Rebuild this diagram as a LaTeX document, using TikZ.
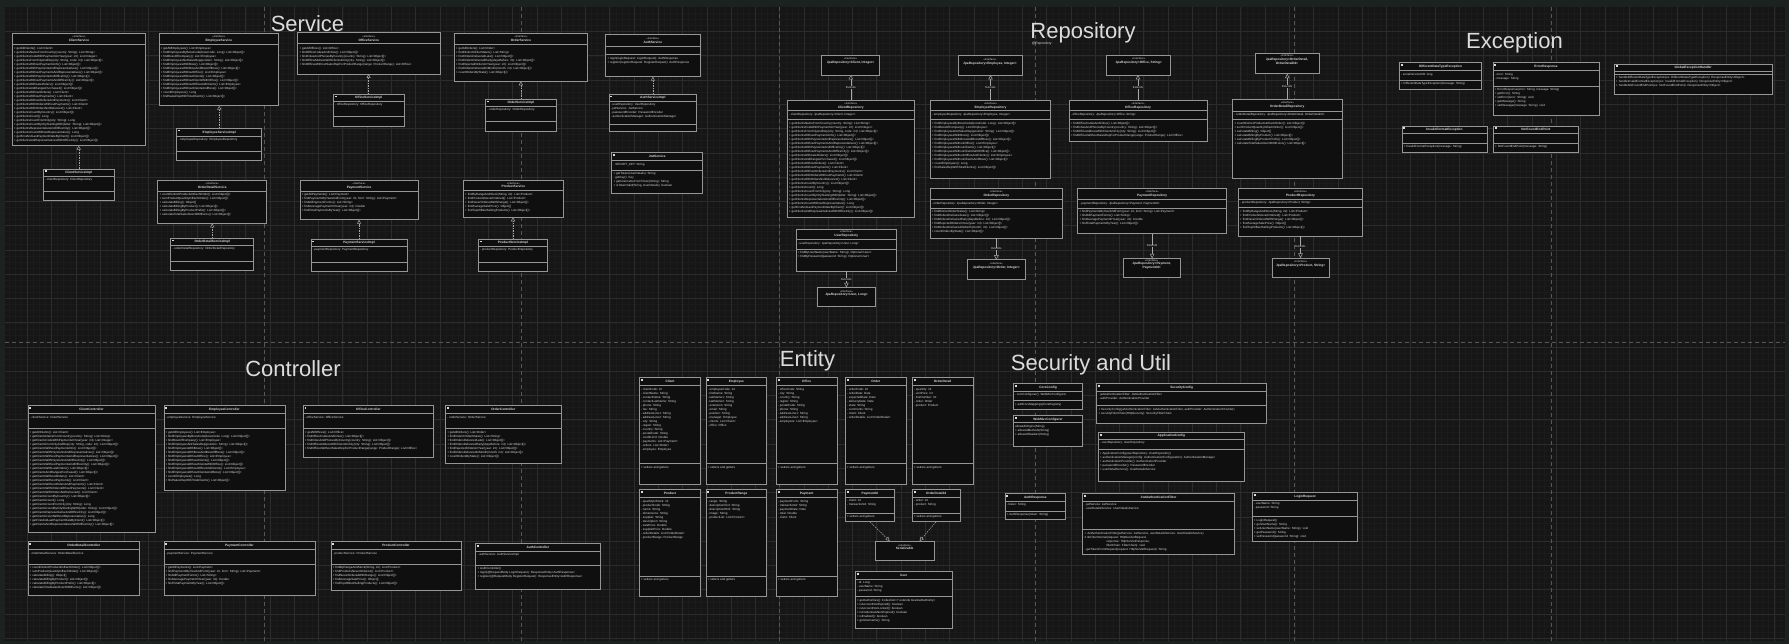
\documentclass[tikz,border=0pt]{standalone}
\usepackage{fontspec}
\setmainfont{Liberation Sans}
\usetikzlibrary{arrows.meta}
\definecolor{outerbg}{HTML}{1B221F}
\definecolor{canvas}{HTML}{161616}
\definecolor{gridmaj}{HTML}{2C2C2C}
\definecolor{gridmin}{HTML}{1B1B1B}
\definecolor{pagebrk}{HTML}{565656}
\definecolor{boxfill}{HTML}{0F0F0F}
\definecolor{boxline}{HTML}{959595}
\definecolor{txt}{HTML}{DCDCDC}
\definecolor{conn}{HTML}{A8A8A8}
\tikzset{
 ubox/.style={draw=boxline, fill=boxfill, line width=0.6pt, inner sep=0pt, outer sep=0pt, anchor=north west},
 usepline/.style={draw=boxline, line width=0.5pt},
 utext/.style={text=txt, inner sep=0pt, align=left, anchor=north west, font=\fontsize{3.0}{4}\selectfont},
 utitle/.style={text=txt, inner sep=0pt, align=center, font=\fontsize{3.2}{3.8}\selectfont\bfseries},
 uicon/.style={fill=txt, draw=none, minimum size=1.8pt, inner sep=0pt, anchor=north west},
 sectitle/.style={text=txt, font=\fontsize{22}{26}\selectfont, anchor=base, inner sep=0pt},
 realize/.style={draw=conn, line width=0.5pt, dash pattern=on 1.5pt off 1pt, -{Triangle[open, length=4pt, width=4pt, fill=boxfill]}},
 extends/.style={draw=conn, line width=0.5pt, -{Triangle[open, length=4.5pt, width=4.5pt, fill=boxfill]}},
 elabel/.style={text=txt, fill=canvas, inner sep=0.4pt, font=\fontsize{2.8}{3}\selectfont},
 gridmajor/.style={draw=gridmaj, line width=0.6pt},
 gridminor/.style={draw=gridmin, line width=0.4pt},
 pagebreak/.style={draw=pagebrk, line width=0.8pt, dash pattern=on 4pt off 3pt},
}
% box: id, x, y, w, h
\newcommand\ubox[5]{\node[ubox, minimum width=#4pt, minimum height=#5pt] (#1) at (#2,#3) {};}
\newcommand\usep[2]{\draw[usepline] ([yshift=-#2pt]#1.north west) -- ([yshift=-#2pt]#1.north east);}
\newcommand\uhdr[3]{\node[uicon] (#1-i) at ([xshift=1.2pt,yshift=-1.2pt]#1.north west) {};
  \node[utitle] (#1-t) at ([yshift=-#2*0.5pt]#1.north) {#3};\usep{#1}{#2}}
\newcommand\uihdr[3]{\node[utitle] (#1-t) at ([yshift=-#2*0.5pt]#1.north) {{\fontsize{2.6}{3.2}\selectfont\mdseries «Interface»}\\#3};\usep{#1}{#2}}
\newcommand\utxt[4]{\node[utext] (#1-#2) at ([xshift=1.6pt,yshift=-#3pt]#1.north west) {#4};}
\newcommand\ujpa[6]{\ubox{#1}{#2}{#3}{#4}{#5}\node[utitle] (#1-t) at ([yshift=-6pt]#1.north) {{\fontsize{2.6}{3.2}\selectfont\mdseries «Interface»}\\#6};}
% method lists
\newcommand\mCli{%
+ getClientsNameFromCountry(country: String): List<String>\\
+ getClientsCodeWithPaymentsInYear(year: int): List<Integer>\\
+ getClientsFromCityAndRep(city: String, code: int): List<Object[]>\\
+ getClientsWithoutPaymentsInfo(): List<Object[]>\\
+ getClientsWithPaymentsAndRepresentatives(): List<Object[]>\\
+ getClientsWithoutPaymentsAndRepresentatives(): List<Object[]>\\
+ getClientsWithPaymentsAndOfficeCity(): List<Object[]>\\
+ getClientsWithoutPaymentsAndOfficeCity(): List<Object[]>\\
+ getClientsWithLateOrders(): List<Object[]>\\
+ getClientsAndRangesPurchased(): List<Object[]>\\
+ getClientsWithoutOrders(): List<Client>\\
+ getClientsWithoutPayments(): List<Client>\\
+ getClientsWithoutOrdersAndPayments(): List<Client>\\
+ getClientsWithOrdersWithoutPayments(): List<Client>\\
+ getClientsWithOrdersNotDelivered(): List<Client>\\
+ getClientsCountByCountry(): List<Object[]>\\
+ getClientsCount(): Long\\
+ getClientsCountFromCity(city: String): Long\\
+ getClientsCountByCityStartingWith(letter: String): List<Object[]>\\
+ getClientsRepresentativeAndOfficeCity(): List<Object[]>\\
+ getClientsCountWithoutRepresentative(): Long\\
+ getFirstAndLastPaymentDateByClient(): List<Object[]>\\
+ getClientsAndRepresentativesWithOfficeCity(): List<Object[]>}
\newcommand\mEmp{%
+ findEmployeesByBossCode(bossCode: Long): List<Object[]>\\
+ findBossOfCompany(): List<Employee>\\
+ findEmployeesNotSalesRep(position: String): List<Object[]>\\
+ findEmployeesWithBoss(): List<Object[]>\\
+ findEmployeesWithBossAndBossOfBoss(): List<Object[]>\\
+ findEmployeesWithoutOffice(): List<Employee>\\
+ findEmployeesWithoutClients(): List<Object[]>\\
+ findEmployeesWithoutClientsWithOffice(): List<Object[]>\\
+ findEmployeesWithoutOfficeAndClients(): List<Employee>\\
+ findEmployeesWithoutClientsAndBoss(): List<Object[]>\\
+ countEmployees(): Long\\
+ findSalesRepWithTotalClients(): List<Object[]>}
\newcommand\mOff{%
+ findOfficeCodesAndCities(): List<Object[]>\\
+ findCitiesAndPhonesByCountry(country: String): List<Object[]>\\
+ findOfficeAddressWithClientsInCity(city: String): List<Object[]>\\
+ findOfficesWithoutSalesRepForProductRange(range: ProductRange): List<Office>}
\newcommand\mOrd{%
+ findDistinctOrderStates(): List<String>\\
+ findOrdersDeliveredLate(): List<Object[]>\\
+ findOrdersDeliveredEarly(daysBefore: int): List<Object[]>\\
+ findRejectedOrdersInYear(year: int): List<Object[]>\\
+ findOrdersDeliveredInMonth(month: int): List<Object[]>\\
+ countOrdersByState(): List<Object[]>}
\newcommand\mOD{%
+ countDistinctProductsInEachOrder(): List<Object[]>\\
+ sumProductQuantityInEachOrder(): List<Object[]>\\
+ calculateBilling(): Object[]\\
+ calculateBillingByProduct(): List<Object[]>\\
+ calculateBillingByProductPrefix(): List<Object[]>\\
+ calculateTotalSalesOver3000Euros(): List<Object[]>}
\newcommand\mPay{%
+ findPaymentsByYearAndForm(year: int, form: String): List<Payment>\\
+ findAllPaymentForms(): List<String>\\
+ findAveragePaymentInYear(year: int): Double\\
+ findTotalPaymentsByYear(): List<Object[]>}
\newcommand\mProd{%
+ findByRangeAndStock(String, int): List<Product>\\
+ findProductsNeverOrdered(): List<Product>\\
+ findNeverOrderedWithRange(): List<Object[]>\\
+ findAverageSalePrice(): Object[]\\
+ findTop20BestSellingProducts(): List<Object[]>}
\begin{document}
\begin{tikzpicture}[x=1pt,y=-1pt]
\useasboundingbox (0,0) rectangle (1789,644);
\fill[outerbg] (0,0) rectangle (1789,644);
\fill[canvas] (5,7) rectangle (1785,641);
% grid
\foreach \k in {1,...,293} \draw[gridminor] ({3+6.0675*\k},7) -- ({3+6.0675*\k},641);
\foreach \k in {1,...,104} \draw[gridminor] (5,{7.2+6.0675*\k}) -- (1785,{7.2+6.0675*\k});
\foreach \k in {1,...,73} \draw[gridmajor] ({3+24.27*\k},7) -- ({3+24.27*\k},641);
\foreach \k in {1,...,26} \draw[gridmajor] (5,{7.2+24.27*\k}) -- (1785,{7.2+24.27*\k});
% page breaks
\foreach \px in {264,521,779,1035,1294,1551} \draw[pagebreak] (\px,7) -- (\px,641);
\draw[pagebreak] (5,342) -- (1785,342);
% section titles
\node[sectitle] (tService) at (307.5,32) {Service};
\node[sectitle] (tRepo) at (1083,38.5) {Repository};
\node[text=txt, font=\fontsize{3.4}{4}\selectfont, anchor=north west, inner sep=0pt] (tRepoAt) at (1031.7,42.3) {@Repository};
\node[sectitle] (tExc) at (1514.5,48.3) {Exception};
\node[sectitle] (tCtrl) at (293,377) {Controller};
\node[sectitle] (tEnt) at (807.5,366.5) {Entity};
\node[sectitle] (tSec) at (1091,370.7) {Security and Util};

% ===================== SERVICE =====================
\ubox{CS}{12.3}{33.3}{133.4}{112.4}\uihdr{CS}{11}{ClientService}
\utxt{CS}{m}{14}{+ getAllClients(): List<Client>\\\mCli}
\ubox{CSI}{43.3}{169}{71}{31.7}\uhdr{CSI}{7.5}{ClientServiceImpl}
\utxt{CSI}{a}{9.5}{- clientRepository: ClientRepository}\usep{CSI}{22.5}

\ubox{ES}{159}{33.3}{119.7}{72.4}\uihdr{ES}{11}{EmployeeService}
\utxt{ES}{m}{14}{+ getAllEmployees(): List<Employee>\\\mEmp}
\ubox{ESI}{176.7}{128.3}{85}{32}\uhdr{ESI}{8}{EmployeeServiceImpl}
\utxt{ESI}{a}{10}{- employeeRepository: EmployeeRepository}\usep{ESI}{22.7}

\ubox{OS}{297.7}{32.7}{142.3}{41.3}\uihdr{OS}{11}{OfficeService}
\utxt{OS}{m}{14}{+ getAllOffices(): List<Office>\\\mOff}
\ubox{OSI}{333.3}{94.3}{70.7}{31.7}\uhdr{OSI}{7}{OfficeServiceImpl}
\utxt{OSI}{a}{9}{- officeRepository: OfficeRepository}\usep{OSI}{22.3}

\ubox{ORS}{454.3}{33.3}{133.4}{48}\uihdr{ORS}{11}{OrderService}
\utxt{ORS}{m}{14}{+ getAllOrders(): List<Order>\\\mOrd}
\ubox{ORSI}{485.7}{99.3}{70.3}{31.7}\uhdr{ORSI}{7}{OrderServiceImpl}
\utxt{ORSI}{a}{9}{- orderRepository: OrderRepository}\usep{ORSI}{22.3}

\ubox{AS}{605.7}{34}{94.3}{42.7}\uihdr{AS}{12.7}{AuthService}\usep{AS}{20.3}
\utxt{AS}{m}{23}{+ login(loginRequest: LoginRequest): AuthResponse\\+ register(registerRequest: RegisterRequest): AuthResponse}
\ubox{ASI}{609}{94.3}{87.7}{36.7}\uhdr{ASI}{6.5}{AuthServiceImpl}
\utxt{ASI}{a}{9}{- userRepository: UserRepository\\- jwtService: JwtService\\- passwordEncoder: PasswordEncoder\\- authenticationManager: AuthenticationManager}\usep{ASI}{29.7}
\ubox{JS}{611.7}{152.7}{91}{40.6}\uhdr{JS}{8}{JwtService}
\utxt{JS}{a}{10}{- SECRET\_KEY: String}\usep{JS}{17.3}
\utxt{JS}{m}{19.5}{+ getToken(UserDetails): String\\- getKey(): Key\\+ getUsernameFromToken(String): String\\+ isTokenValid(String, UserDetails): boolean}

\ubox{ODS}{157.7}{180.7}{109}{42.6}\uihdr{ODS}{10.3}{OrderDetailService}
\utxt{ODS}{m}{12.8}{\mOD}
\ubox{ODSI}{170.7}{238.3}{83}{32.4}\uhdr{ODSI}{7.3}{OrderDetailServiceImpl}
\utxt{ODSI}{a}{9.3}{- orderDetailRepository: OrderDetailRepository}\usep{ODSI}{22.7}

\ubox{PS}{300}{180.7}{118.3}{39}\uihdr{PS}{10.3}{PaymentService}
\utxt{PS}{m}{12.8}{+ getAllPayments(): List<Payment>\\\mPay}
\ubox{PSI}{310.8}{239.3}{96.4}{32.4}\uhdr{PSI}{7.3}{PaymentServiceImpl}
\utxt{PSI}{a}{9.3}{- paymentRepository: PaymentRepository}\usep{PSI}{22.7}

\ubox{PRS}{463.4}{180}{99.9}{37.3}\uihdr{PRS}{10.3}{ProductService}
\utxt{PRS}{m}{12.8}{\mProd}
\ubox{PRSI}{478.4}{239.3}{69.2}{32.4}\uhdr{PRSI}{7.3}{ProductServiceImpl}
\utxt{PRSI}{a}{9.3}{- productRepository: ProductRepository}\usep{PRSI}{22.7}

\draw[realize] (CSI.north) -- (CSI.north |- CS.south);
\draw[realize] (ESI.north) -- (ESI.north |- ES.south);
\draw[realize] (OSI.north) -- (OSI.north |- OS.south);
\draw[realize] (ORSI.north) -- (ORSI.north |- ORS.south);
\draw[realize] (ASI.north) -- (ASI.north |- AS.south);
\draw[realize] (ODSI.north) -- (ODSI.north |- ODS.south);
\draw[realize] (PSI.north) -- (PSI.north |- PS.south);
\draw[realize] (PRSI.north) -- (PRSI.north |- PRS.south);

% ===================== REPOSITORY =====================
\ujpa{JC}{821.7}{55}{57.6}{20}{JpaRepository<Client, Integer>}
\ubox{CR}{787.3}{100.3}{127}{117.4}\uihdr{CR}{10.4}{ClientRepository}
\utxt{CR}{a}{12.5}{- clientRepository: JpaRepository<Client, Integer>}\usep{CR}{19}
\utxt{CR}{m}{21.5}{\mCli}

\ujpa{JE}{958}{55.7}{64}{19.3}{JpaRepository<Employee, Integer>}
\ubox{ER}{930.3}{100.3}{120.4}{78}\uihdr{ER}{10.4}{EmployeeRepository}
\utxt{ER}{a}{12.5}{- employeeRepository: JpaRepository<Employee, Integer>}\usep{ER}{19}
\utxt{ER}{m}{21.5}{\mEmp}

\ujpa{JO}{1106.7}{55}{64}{20}{JpaRepository<Office, String>}
\ubox{OR}{1069}{100.3}{138}{41.4}\uihdr{OR}{10.4}{OfficeRepository}
\utxt{OR}{a}{12.5}{- officeRepository: JpaRepository<Office, String>}\usep{OR}{19}
\utxt{OR}{m}{21.5}{\mOff}

\ubox{UR}{796}{229}{100.7}{42.3}\uihdr{UR}{10.3}{UserRepository}
\utxt{UR}{a}{13}{- userRepository: JpaRepository<User, Long>}\usep{UR}{20}
\utxt{UR}{m}{22}{+ findByUserName(userName: String): Optional<User>\\+ findByPassword(password: String): Optional<User>}
\ujpa{JU}{817.3}{287.3}{58.4}{19.4}{JpaRepository<User, Long>}

\ubox{ORR}{930}{188.7}{132.7}{49.6}\uihdr{ORR}{10.6}{OrderRepository}
\utxt{ORR}{a}{13}{- orderRepository: JpaRepository<Order, Integer>}\usep{ORR}{20}
\utxt{ORR}{m}{21.5}{\mOrd}
\ujpa{JOR}{967.7}{259.7}{57.3}{19.6}{JpaRepository<Order, Integer>}

\ubox{PR}{1077.7}{188.7}{148.9}{45}\uihdr{PR}{10.6}{PaymentRepository}
\utxt{PR}{a}{13}{- paymentRepository: JpaRepository<Payment, PaymentId>}\usep{PR}{20}
\utxt{PR}{m}{21.5}{\mPay}
\ujpa{JP}{1123.3}{258.3}{56.7}{19}{JpaRepository<Payment,\\PaymentId>}

\ujpa{JOD}{1255}{53.7}{64}{20}{JpaRepository<OrderDetail,\\OrderDetailId>}
\ubox{ODR}{1232.5}{99.3}{109.5}{78.7}\uihdr{ODR}{11.7}{OrderDetailRepository}
\utxt{ODR}{a}{14}{- orderDetailRepository: JpaRepository<OrderDetail, OrderDetailId>}\usep{ODR}{20}
\utxt{ODR}{m}{22.5}{\mOD}

\ubox{PRR}{1238.4}{188.3}{124.2}{47.7}\uihdr{PRR}{11}{ProductRepository}
\utxt{PRR}{a}{13.3}{- productRepository: JpaRepository<Product, String>}\usep{PRR}{19.4}
\utxt{PRR}{m}{21.5}{\mProd}
\ujpa{JPR}{1272}{258}{57.4}{19.3}{JpaRepository<Product, String>}

\draw[extends] (CR.north) -- node[elabel] (lCR) {Extends} (CR.north |- JC.south);
\draw[extends] (ER.north) -- node[elabel] (lER) {Extends} (ER.north |- JE.south);
\draw[extends] (OR.north) -- node[elabel] (lOR) {Extends} (OR.north |- JO.south);
\draw[extends] (ODR.north) -- node[elabel] (lODR) {Extends} (ODR.north |- JOD.south);
\draw[extends] (UR.south) -- node[elabel] (lUR) {Extends} (UR.south |- JU.north);
\draw[extends] (ORR.south) -- node[elabel] (lORR) {Extends} (ORR.south |- JOR.north);
\draw[extends] (PR.south) -- node[elabel] (lPR) {Extends} (PR.south |- JP.north);
\draw[extends] (PRR.south) -- node[elabel] (lPRR) {Extends} (PRR.south |- JPR.north);

% ===================== EXCEPTION =====================
\ubox{DDT}{1399.3}{62.7}{82.3}{26.6}\uhdr{DDT}{8}{DifferentDataTypeException}
\utxt{DDT}{a}{10}{- serialVersionUID: long}\usep{DDT}{17.3}
\utxt{DDT}{m}{19.5}{+ DifferentDataTypeException(message: String)}
\ubox{ERR}{1493}{62.7}{106}{52.6}\uhdr{ERR}{8}{ErrorResponse}
\utxt{ERR}{a}{10}{- error: String\\- message: String}\usep{ERR}{23.3}
\utxt{ERR}{m}{25.5}{+ ErrorResponse(error: String, message: String)\\+ getError(): String\\+ setError(error: String): void\\+ getMessage(): String\\+ setMessage(message: String): void}
\ubox{GEH}{1614.4}{64}{157.4}{30.7}\uhdr{GEH}{7.3}{GlobalExceptionHandler}\usep{GEH}{10}
\utxt{GEH}{m}{12}{+ handleDifferentDataTypeException(ex: DifferentDataTypeException): ResponseEntity<Object>\\+ handleInvalidFormatException(ex: InvalidFormatException): ResponseEntity<Object>\\+ handleNotFoundEndPoint(ex: NotFoundEndPoint): ResponseEntity<Object>}
\ubox{IFE}{1402}{126}{85}{26}\uhdr{IFE}{7.7}{InvalidFormatException}\usep{IFE}{17.3}
\utxt{IFE}{m}{19.5}{+ InvalidFormatException(message: String)}
\ubox{NFE}{1493.4}{126}{85.1}{26}\uhdr{NFE}{7.7}{NotFoundEndPoint}\usep{NFE}{17.3}
\utxt{NFE}{m}{19.5}{+ NotFoundEndPoint(message: String)}

% ===================== CONTROLLER =====================
\ubox{CC}{27.9}{405.3}{127.1}{127.4}\uhdr{CC}{8}{ClientController}
\utxt{CC}{a}{10.5}{- clientService: ClientService}\usep{CC}{23}
\utxt{CC}{m}{25.5}{+ getAllClients(): List<Client>\\\mCli}
\ubox{EC}{163.8}{405.3}{121.3}{85.4}\uhdr{EC}{8}{EmployeeController}
\utxt{EC}{a}{10.5}{- employeeService: EmployeeService}\usep{EC}{23}
\utxt{EC}{m}{25.5}{+ getAllEmployees(): List<Employee>\\\mEmp}
\ubox{OC}{303.1}{405.3}{130.5}{52}\uhdr{OC}{8}{OfficeController}
\utxt{OC}{a}{10.5}{- officeService: OfficeService}\usep{OC}{23}
\utxt{OC}{m}{25.5}{+ getAllOffices(): List<Office>\\\mOff}
\ubox{ORC}{445.5}{405.3}{115.5}{58}\uhdr{ORC}{8}{OrderController}
\utxt{ORC}{a}{10.5}{- orderService: OrderService}\usep{ORC}{23}
\utxt{ORC}{m}{25.5}{+ getAllOrders(): List<Order>\\\mOrd}
\ubox{ODC}{27.9}{541.7}{111.8}{53.9}\uhdr{ODC}{7.7}{OrderDetailController}
\utxt{ODC}{a}{10}{- orderDetailService: OrderDetailService}\usep{ODC}{22.3}
\utxt{ODC}{m}{24.5}{\mOD}
\ubox{PC}{163.8}{541.7}{151.2}{53.9}\uhdr{PC}{7.7}{PaymentController}
\utxt{PC}{a}{10}{- paymentService: PaymentService}\usep{PC}{22.3}
\utxt{PC}{m}{24.5}{+ getAllPayments(): List<Payment>\\\mPay}
\ubox{PRC}{331}{541.7}{130}{48.3}\uhdr{PRC}{7.7}{ProductController}
\utxt{PRC}{a}{10}{- productService: ProductService}\usep{PRC}{22.3}
\utxt{PRC}{m}{24.5}{\mProd}
\ubox{AC}{475.7}{543.3}{124.3}{46}\uhdr{AC}{7.7}{AuthController}
\utxt{AC}{a}{10}{- authService: AuthServiceImpl}\usep{AC}{22}
\utxt{AC}{m}{24}{+ AuthController()\\+ login(@RequestBody LoginRequest): ResponseEntity<AuthResponse>\\+ register(@RequestBody RegisterRequest): ResponseEntity<AuthResponse>}

% ===================== ENTITY =====================
\ubox{ECl}{639.3}{377.7}{61.4}{106.6}\uhdr{ECl}{8}{Client}
\utxt{ECl}{a}{10}{- clientCode: int\\- clientName: String\\- contactName: String\\- contactLastName: String\\- phone: String\\- fax: String\\- addressLine1: String\\- addressLine2: String\\- city: String\\- region: String\\- country: String\\- postalCode: String\\- creditLimit: Double\\- payments: List<Payment>\\- orders: List<Order>\\- employee: Employee}
\usep{ECl}{86}\utxt{ECl}{m}{88.5}{+ setters and getters}
\ubox{EEm}{706}{377.7}{60.7}{106.6}\uhdr{EEm}{8}{Employee}
\utxt{EEm}{a}{10}{- employeeCode: int\\- firstName: String\\- lastName1: String\\- lastName2: String\\- extension: String\\- email: String\\- position: String\\- manager: Employee\\- clients: List<Client>\\- office: Office}
\usep{EEm}{86}\utxt{EEm}{m}{88.5}{+ setters and getters}
\ubox{EOf}{776.3}{377.7}{60.7}{106.6}\uhdr{EOf}{8}{Office}
\utxt{EOf}{a}{10}{- officeCode: String\\- city: String\\- country: String\\- region: String\\- postalCode: String\\- phone: String\\- addressLine1: String\\- addressLine2: String\\- employees: List<Employee>}
\usep{EOf}{86}\utxt{EOf}{m}{88.5}{+ setters and getters}
\ubox{EOr}{845.3}{377.7}{61}{106.6}\uhdr{EOr}{8}{Order}
\utxt{EOr}{a}{10}{- orderCode: int\\- orderDate: Date\\- expectedDate: Date\\- deliveryDate: Date\\- state: String\\- comments: String\\- client: Client\\- orderDetails: List<OrderDetail>}
\usep{EOr}{86}\utxt{EOr}{m}{88.5}{+ setters and getters}
\ubox{EOD}{912.3}{377.7}{60.7}{106.6}\uhdr{EOD}{8}{OrderDetail}
\utxt{EOD}{a}{10}{- quantity: int\\- unitPrice: int\\- lineNumber: int\\- order: Order\\- product: Product}
\usep{EOD}{86}\utxt{EOD}{m}{88.5}{+ setters and getters}

\ubox{EPr}{639.3}{489.7}{61.4}{106.6}\uhdr{EPr}{8}{Product}
\utxt{EPr}{a}{10}{- quantityInStock: int\\- productCode: String\\- name: String\\- dimensions: String\\- supplier: String\\- description: String\\- salePrice: Double\\- supplierPrice: Double\\- orderDetails: List<OrderDetail>\\- productRange: ProductRange}
\usep{EPr}{86.3}\utxt{EPr}{m}{88.8}{+ setters and getters}
\ubox{EPR}{706}{489.7}{60.7}{106.6}\uhdr{EPR}{8}{ProductRange}
\utxt{EPR}{a}{10}{- range: String\\- descriptionText: String\\- descriptionHtml: String\\- image: String\\- productList: List<Product>}
\usep{EPR}{86.3}\utxt{EPR}{m}{88.8}{+ setters and getters}
\ubox{EPa}{776.3}{489.7}{60.7}{106.6}\uhdr{EPa}{8}{Payment}
\utxt{EPa}{a}{10}{- paymentForm: String\\- transactionId: String\\- paymentDate: Date\\- total: Double\\- client: Client}
\usep{EPa}{86.3}\utxt{EPa}{m}{88.8}{+ setters and getters}
\ubox{PID}{845.3}{489.7}{49}{32}\uhdr{PID}{7.6}{PaymentId}
\utxt{PID}{a}{9.6}{- client: int\\- transactionId: String}\usep{PID}{23.3}
\utxt{PID}{m}{25.3}{+ setters and getters}
\ubox{ODID}{912.3}{489.7}{47.7}{32}\uhdr{ODID}{7.6}{OrderDetailId}
\utxt{ODID}{a}{9.6}{- order: int\\- product: String}\usep{ODID}{23.3}
\utxt{ODID}{m}{25.3}{+ setters and getters}
\ubox{SER}{875.3}{541}{58.7}{19.7}
\node[utitle] (SER-t) at ([yshift=-6pt]SER.north) {{\fontsize{2.6}{3.2}\selectfont\mdseries «interface»}\\Serializable};
\draw[realize] (PID.south) -- ([xshift=-15pt]SER.north);
\draw[realize] (ODID.south) -- ([xshift=15pt]SER.north);
\ubox{EU}{855.3}{571.3}{96.7}{57.4}\uhdr{EU}{7.7}{User}
\utxt{EU}{a}{9.7}{- id: Long\\- userName: String\\- password: String}\usep{EU}{25.4}
\utxt{EU}{m}{27.4}{+ getAuthorities(): Collection<? extends GrantedAuthority>\\+ isAccountNonExpired(): boolean\\+ isAccountNonLocked(): boolean\\+ isCredentialsNonExpired(): boolean\\+ isEnabled(): boolean\\+ getUsername(): String}

% ===================== SECURITY =====================
\ubox{CoC}{1013.3}{383.7}{69.4}{25.6}\uhdr{CoC}{7.3}{CorsConfig}
\utxt{CoC}{a}{9.5}{- corsConfigurer(): WebMvcConfigurer}\usep{CoC}{17}
\utxt{CoC}{m}{19.3}{+ addCorsMappings(CorsRegistry)}
\ubox{WMC}{1013.3}{415.7}{69.4}{31}\uhdr{WMC}{7}{WebMvcConfigurer}
\utxt{WMC}{m}{9.5}{allowedOrigins(String)\\+ allowedMethods(String)\\+ allowedHeaders(String)}
\ubox{SC}{1096.7}{383.7}{170}{39.6}\uhdr{SC}{7.3}{SecurityConfig}
\utxt{SC}{a}{9.5}{- jwtAuthenticationFilter: JwtAuthenticationFilter\\- authProvider: AuthenticationProvider}\usep{SC}{22}
\utxt{SC}{m}{24.5}{+ SecurityConfig(jwtAuthenticationFilter: JwtAuthenticationFilter, authProvider: AuthenticationProvider)\\+ securityFilterChain(HttpSecurity): SecurityFilterChain}
\ubox{APC}{1098.3}{432.3}{146}{48.7}\uhdr{APC}{7}{ApplicationConfig}
\utxt{APC}{a}{9.3}{- userRepository: UserRepository}\usep{APC}{17}
\utxt{APC}{m}{19.5}{+ ApplicationConfig(userRepository: UserRepository)\\+ authenticationManager(config: AuthenticationConfiguration): AuthenticationManager\\+ authenticationProvider(): AuthenticationProvider\\+ passwordEncoder(): PasswordEncoder\\+ userDetailService(): UserDetailsService}
\ubox{AR}{1005}{493.7}{60.7}{26}\uhdr{AR}{7.3}{AuthResponse}
\utxt{AR}{a}{9.5}{- token: String}\usep{AR}{17.6}
\utxt{AR}{m}{19.8}{+ AuthResponse(token: String)}
\ubox{JAF}{1082.7}{493.7}{151.6}{60.3}\uhdr{JAF}{7.3}{JwtAuthenticationFilter}
\utxt{JAF}{a}{9.5}{- jwtService: JwtService\\- userDetailsService: UserDetailsService}\usep{JAF}{35.6}
\utxt{JAF}{m}{38}{+ JwtAuthenticationFilter(jwtService: JwtService, userDetailsService: UserDetailsService)\\\# doFilterInternal(request: HttpServletRequest,\\\hspace*{22pt}response: HttpServletResponse,\\\hspace*{22pt}filterChain: FilterChain): void\\- getTokenFromRequest(request: HttpServletRequest): String}
\ubox{LR}{1252.3}{492.7}{105.4}{49}\uhdr{LR}{7.3}{LoginRequest}
\utxt{LR}{a}{9.5}{- userName: String\\- password: String}\usep{LR}{24}
\utxt{LR}{m}{26}{+ LoginRequest()\\+ getUserName(): String\\+ setUserName(userName: String): void\\+ getPassword(): String\\+ setPassword(password: String): void}
\end{tikzpicture}
\end{document}
